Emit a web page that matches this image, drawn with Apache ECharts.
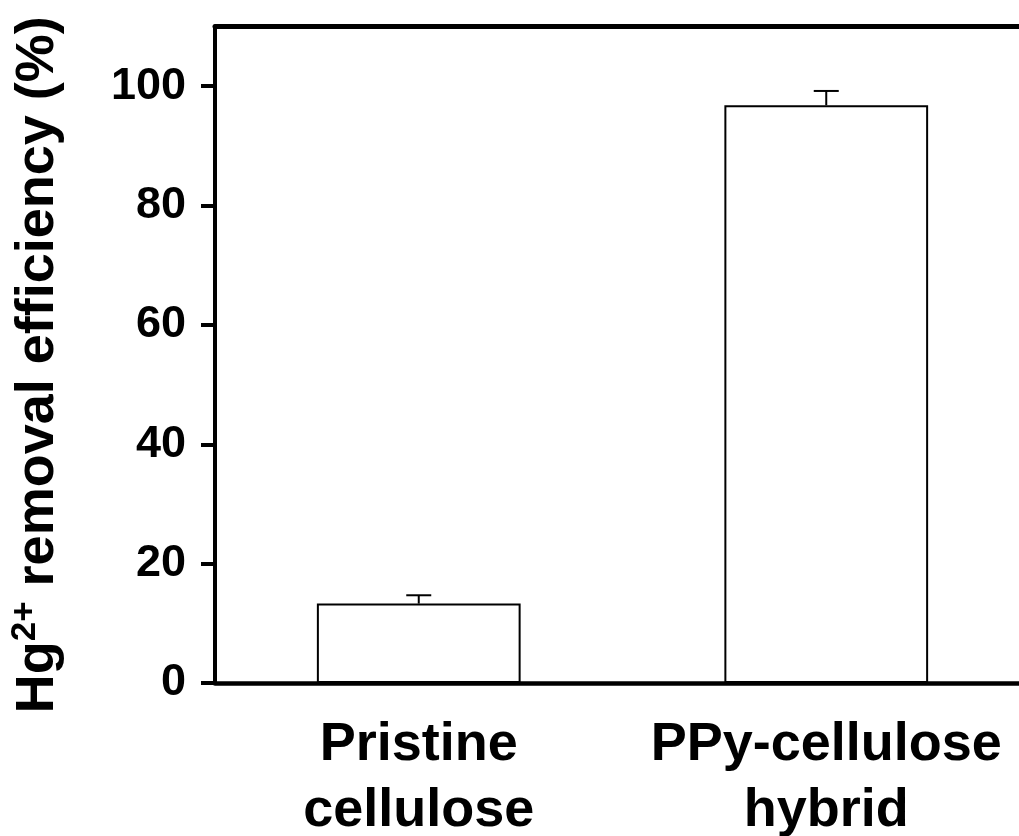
<!DOCTYPE html>
<html>
<head>
<meta charset="utf-8">
<style>
  html, body { margin: 0; padding: 0; background: #fff; }
  #main { width: 1019px; height: 836px; }
</style>
<script src="https://cdn.jsdelivr.net/npm/echarts@6/dist/echarts.min.js"></script>
</head>
<body>
<div id="main"></div>
<script>
// data
var categories = ['Pristine\ncellulose', 'PPy-cellulose\nhybrid'];
var removal = [13.3, 96.8];      // mean removal efficiency (%)
var removalErr = [1.4, 2.4];     // upper error
var yTicks = [0, 20, 40, 60, 80, 100];

var font = 'Arial, "Liberation Sans", sans-serif';

var myChart = echarts.init(document.getElementById('main'));

myChart.setOption({
    animation: false,
    grid: {
        left: 215,
        top: 26.5,
        bottom: 153,
        width: 815,
        containLabel: false,
        outerBoundsMode: 'none'
    },
    xAxis: [{
        type: 'category',
        data: categories,
        axisLine: { lineStyle: { color: '#000', width: 4.5 } },
        axisTick: { alignWithLabel: true, length: 14, lineStyle: { color: '#000', width: 4 } },
        axisLabel: {
            interval: 0,
            hideOverlap: false,
            color: '#000', fontFamily: font, fontWeight: 'bold',
            fontSize: 54, lineHeight: 66, margin: 29
        }
    }, {
        // top frame line only
        type: 'category',
        position: 'top',
        data: categories,
        axisLine: { lineStyle: { color: '#000', width: 5 } },
        axisTick: { show: false },
        axisLabel: { show: false }
    }],
    yAxis: {
        type: 'value',
        min: 0,
        max: 110,
        interval: 20,
        splitLine: { show: false },
        axisLine: { show: true, lineStyle: { color: '#000', width: 4 } },
        axisTick: { show: true, length: 14, customValues: yTicks, lineStyle: { color: '#000', width: 4 } },
        axisLabel: {
            customValues: yTicks,
            color: '#000', fontFamily: font, fontWeight: 'bold',
            fontSize: 45, margin: 29
        },
        name: 'Hg{sup|2+} removal efficiency (%)',
        nameLocation: 'middle',
        nameGap: 147,
        nameTextStyle: {
            color: '#000', fontFamily: font, fontWeight: 'bold',
            fontSize: 54, lineHeight: 60,
            padding: [0, 20, 0, 0],
            rich: {
                sup: { fontFamily: font, fontWeight: 'bold', fontSize: 35, verticalAlign: 'top', color: '#000' }
            }
        }
    },
    series: [{
        type: 'bar',
        data: removal,
        barWidth: '50%',
        itemStyle: { color: '#fff', borderColor: '#000', borderWidth: 2 },
        z: 2
    }, {
        type: 'custom',
        z: 3,
        data: removal.map(function (v, i) { return [i, v, v + removalErr[i]]; }),
        renderItem: function (params, api) {
            var base = api.coord([api.value(0), api.value(1)]);
            var top = api.coord([api.value(0), api.value(2)]);
            var half = 12.5;
            var st = { stroke: '#000', lineWidth: 2 };
            return {
                type: 'group',
                children: [
                    { type: 'line', shape: { x1: top[0], y1: base[1], x2: top[0], y2: top[1] }, style: st },
                    { type: 'line', shape: { x1: top[0] - half, y1: top[1], x2: top[0] + half, y2: top[1] }, style: st }
                ]
            };
        }
    }]
});
</script>
</body>
</html>
